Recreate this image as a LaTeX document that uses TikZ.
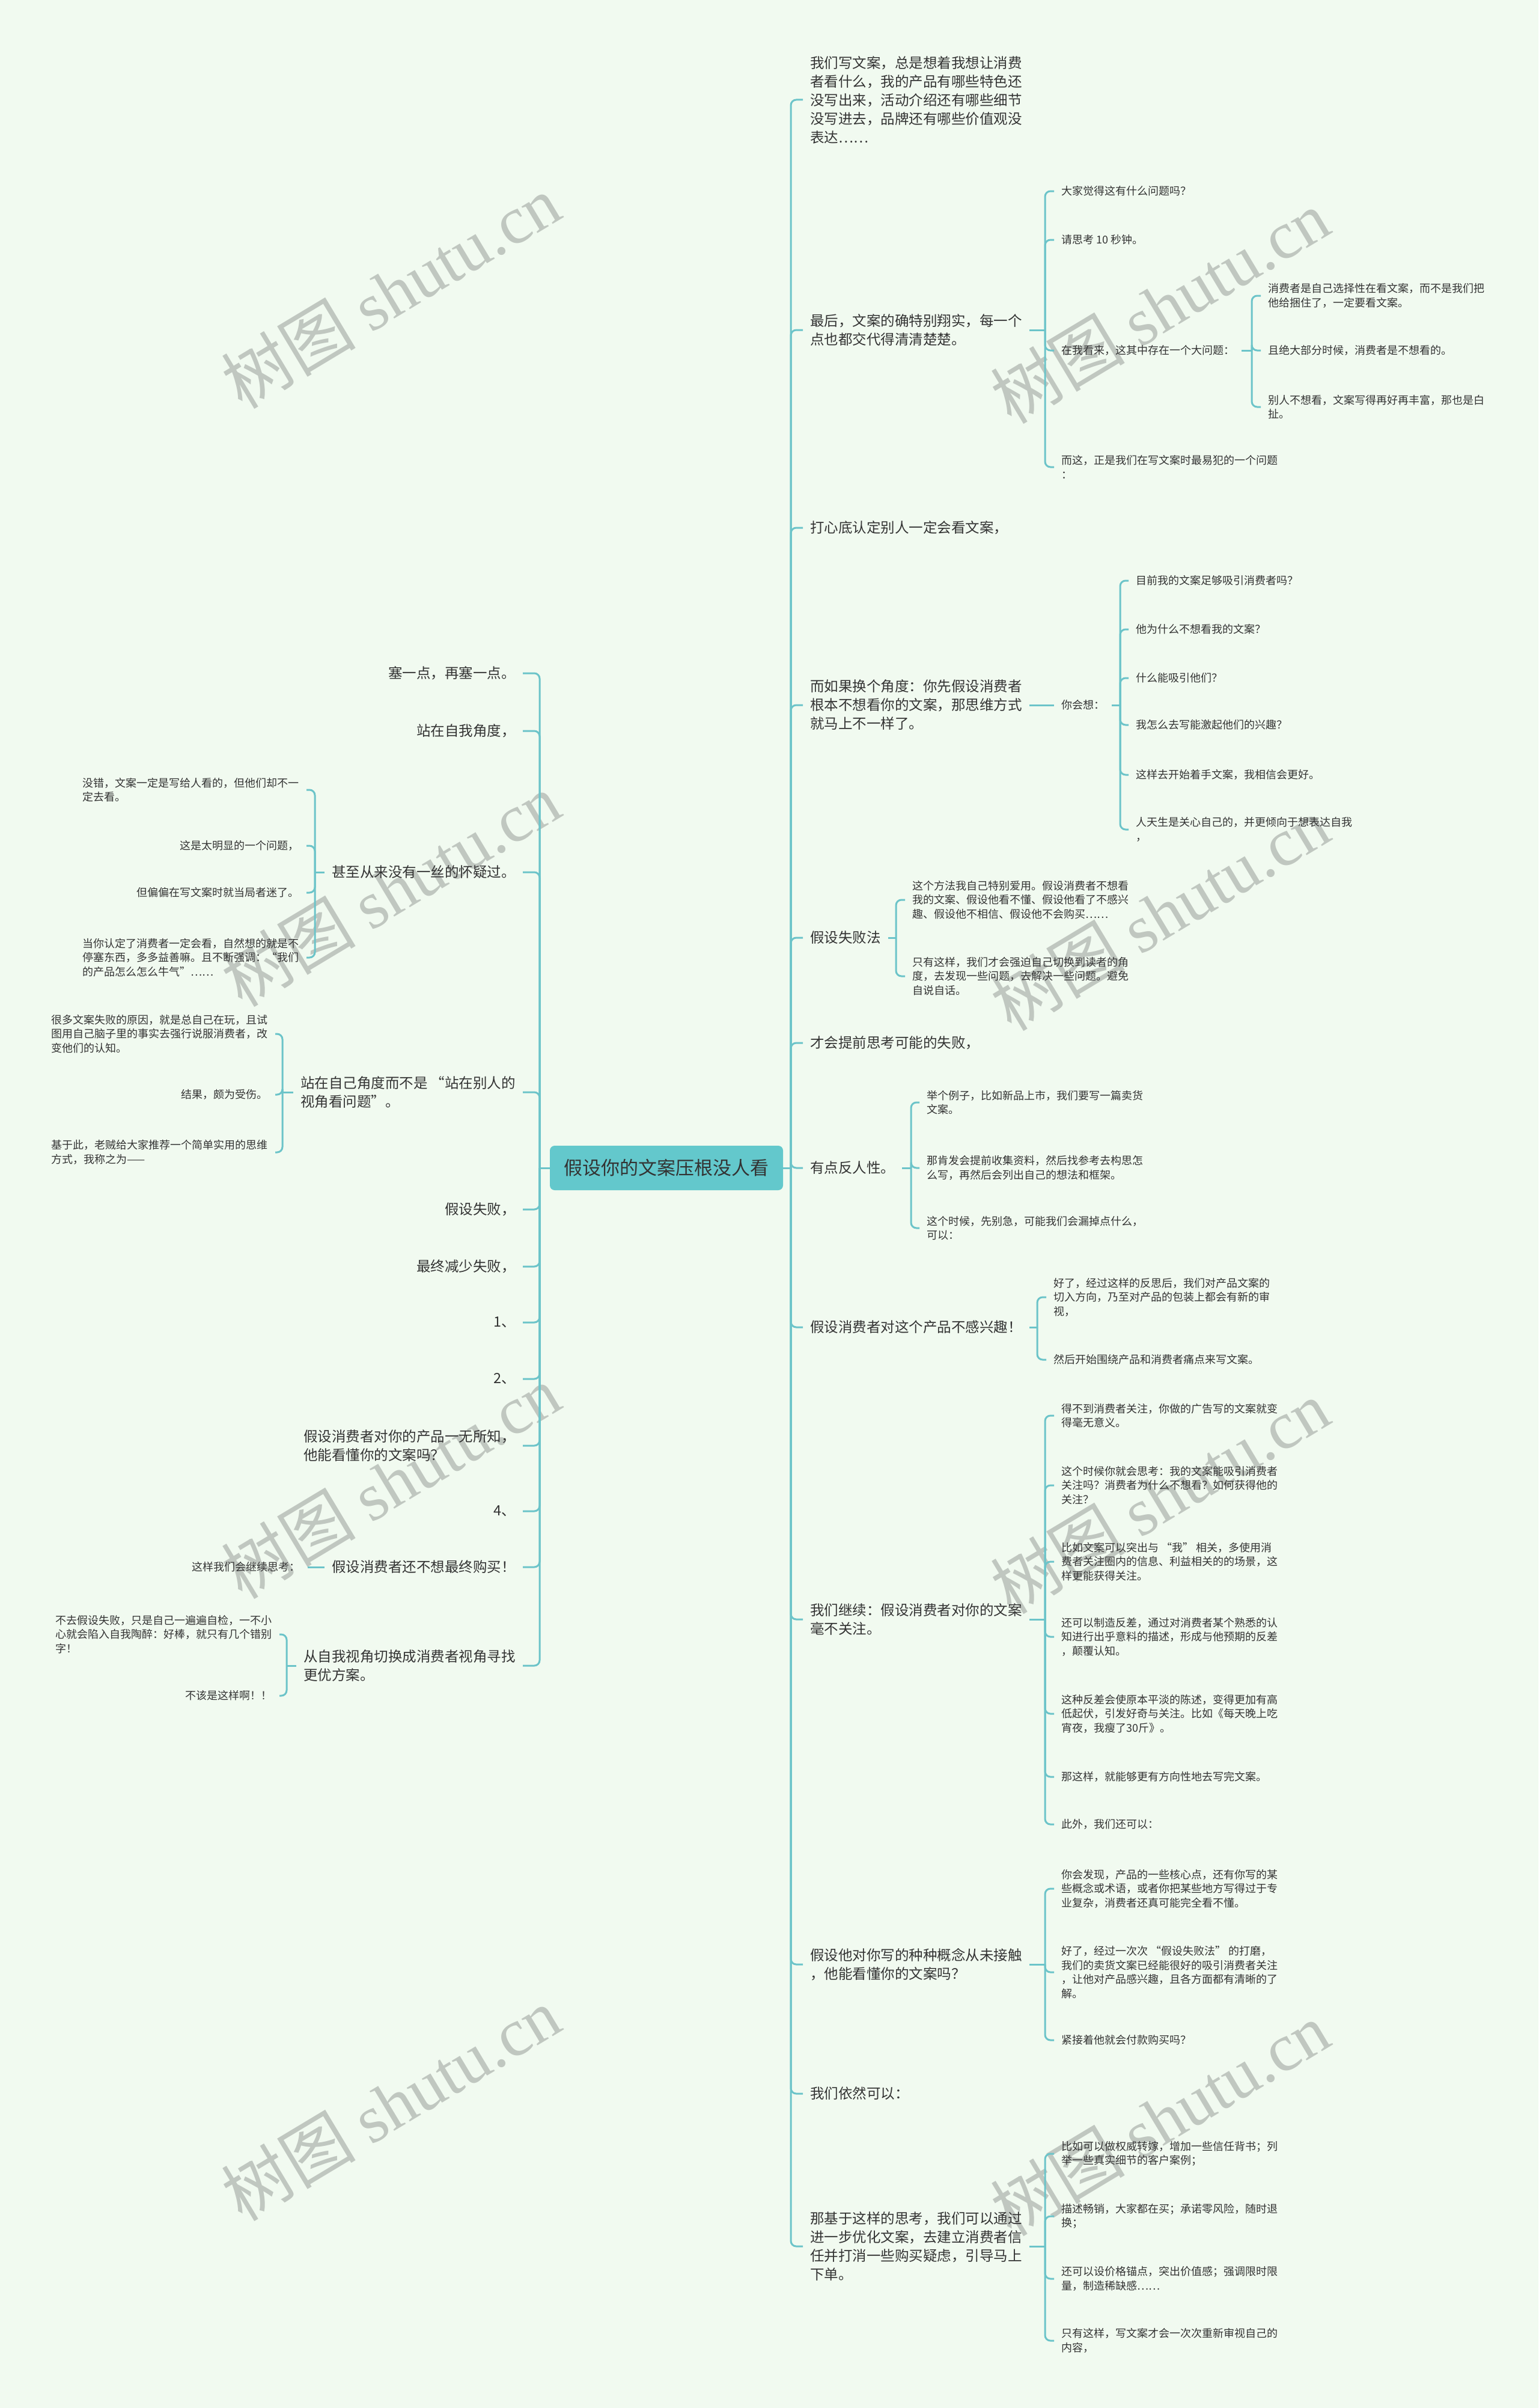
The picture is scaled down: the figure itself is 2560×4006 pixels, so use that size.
\documentclass[tikz,border=0pt]{standalone}
\usepackage{fontspec}
\setmainfont{Noto Sans CJK SC}
\newfontfamily\wmlatin{Liberation Serif}
\usepackage{tikz}
\definecolor{bgmint}{RGB}{241,250,240}
\definecolor{linkteal}{RGB}{108,196,201}
\definecolor{rootfill}{RGB}{99,200,204}
\definecolor{ink}{RGB}{51,51,51}
\definecolor{wmgray}{RGB}{192,199,192}
\tikzset{
	link/.style={draw=linkteal, line width=3pt, rounded corners=9pt},
	rootbox/.style={fill=rootfill, rounded corners=8pt, minimum width=388pt, minimum height=74pt, inner sep=0pt, text=ink, font=\fontsize{31}{36}\selectfont},
	topic/.style={text=ink, inner xsep=12pt, inner ysep=0pt, align=left, font=\fontsize{23.5}{31}\selectfont},
	leaf/.style={text=ink, inner xsep=12pt, inner ysep=0pt, align=left, font=\fontsize{18}{23.5}\selectfont},
	wmark/.style={text=wmgray, rotate=31, font=\fontsize{112}{112}\selectfont}
}

\begin{document}
\begin{tikzpicture}[x=1pt,y=-1pt]
	\useasboundingbox (0,0) rectangle (2560,4006);
	\fill[bgmint] (0,0) rectangle (2560,4006);
	% watermark
	\foreach \wx/\wy in {650/485,1930/510,650/1480,1930/1520,650/2465,1930/2490,650/3500,1930/3525}
		\node[wmark] at (\wx,\wy) {树图 {\wmlatin shutu.cn}};
	\node[rootbox] (root) at (1109,1943) {假设你的文案压根没人看};
	\coordinate (rjoin) at (1316,1943);
	\coordinate (ljoin) at (898,1943);
	% right side
	\node[topic, anchor=west] (r1) at (1336,166) {我们写文案，总是想着我想让消费\\者看什么，我的产品有哪些特色还\\没写出来，活动介绍还有哪些细节\\没写进去，品牌还有哪些价值观没\\表达……};%1
	\node[topic, anchor=west] (r2) at (1336,549) {最后，文案的确特别翔实，每一个\\点也都交代得清清楚楚。};%2
	\node[topic, anchor=west] (r3) at (1336,878) {打心底认定别人一定会看文案，};%3
	\node[topic, anchor=west] (r4) at (1336,1173) {而如果换个角度：你先假设消费者\\根本不想看你的文案，那思维方式\\就马上不一样了。};%4
	\node[topic, anchor=west] (r5) at (1336,1560) {假设失败法};%5
	\node[topic, anchor=west] (r6) at (1336,1735) {才会提前思考可能的失败，};%6
	\node[topic, anchor=west] (r7) at (1336,1943) {有点反人性。};%7
	\node[topic, anchor=west] (r8) at (1336,2208) {假设消费者对这个产品不感兴趣！};%8
	\node[topic, anchor=west] (r9) at (1336,2694) {我们继续：假设消费者对你的文案\\毫不关注。};%9
	\node[topic, anchor=west] (r10) at (1336,3268) {假设他对你写的种种概念从未接触\\，他能看懂你的文案吗？};%10
	\node[topic, anchor=west] (r11) at (1336,3483) {我们依然可以：};%11
	\node[topic, anchor=west] (r12) at (1336,3737) {那基于这样的思考，我们可以通过\\进一步优化文案，去建立消费者信\\任并打消一些购买疑虑，引导马上\\下单。};%12
	\draw[link] (root.east) -- (rjoin);
	\foreach \n in {r1,r2,r3,r4,r5,r6,r7,r8,r9,r10,r11,r12}
		\draw[link] (rjoin) |- (\n.west);
	% r2
	\coordinate (j2) at (1739,549);
	\node[leaf, anchor=west] (a1) at (1754,318) {大家觉得这有什么问题吗？};
	\node[leaf, anchor=west] (a2) at (1754,399) {请思考 10 秒钟。};
	\node[leaf, anchor=west] (a3) at (1754,583) {在我看来，这其中存在一个大问题：};
	\node[leaf, anchor=west] (a4) at (1754,777) {而这，正是我们在写文案时最易犯的一个问题\\：};
	\draw[link] (r2.east) -- (j2);
	\foreach \n in {a1,a2,a3,a4}
		\draw[link] (j2) |- (\n.west);
	\coordinate (ja3) at (2083,583);
	\node[leaf, anchor=west] (a31) at (2098,492) {消费者是自己选择性在看文案，而不是我们把\\他给捆住了，一定要看文案。};
	\node[leaf, anchor=west] (a32) at (2098,583) {且绝大部分时候，消费者是不想看的。};
	\node[leaf, anchor=west] (a33) at (2098,677) {别人不想看，文案写得再好再丰富，那也是白\\扯。};
	\draw[link] (a3.east) -- (ja3);
	\foreach \n in {a31,a32,a33}
		\draw[link] (ja3) |- (\n.west);
	% r4
	\node[leaf, anchor=west] (think) at (1754,1173) {你会想：};
	\coordinate (jthink) at (1864,1173);
	\node[leaf, anchor=west] (b1) at (1878,966) {目前我的文案足够吸引消费者吗？};
	\node[leaf, anchor=west] (b2) at (1878,1047) {他为什么不想看我的文案？};
	\node[leaf, anchor=west] (b3) at (1878,1128) {什么能吸引他们？};
	\node[leaf, anchor=west] (b4) at (1878,1206) {我怎么去写能激起他们的兴趣？};
	\node[leaf, anchor=west] (b5) at (1878,1289) {这样去开始着手文案，我相信会更好。};
	\node[leaf, anchor=west] (b6) at (1878,1380) {人天生是关心自己的，并更倾向于想表达自我\\，};
	\draw[link] (r4.east) -- (think.west);
	\draw[link] (think.east) -- (jthink);
	\foreach \n in {b1,b2,b3,b4,b5,b6}
		\draw[link] (jthink) |- (\n.west);
	% r5
	\coordinate (j5) at (1491,1560);
	\node[leaf, anchor=west] (c1) at (1506,1497) {这个方法我自己特别爱用。假设消费者不想看\\我的文案、假设他看不懂、假设他看了不感兴\\趣、假设他不相信、假设他不会购买……};
	\node[leaf, anchor=west] (c2) at (1506,1624) {只有这样，我们才会强迫自己切换到读者的角\\度，去发现一些问题，去解决一些问题。避免\\自说自话。};
	\draw[link] (r5.east) -- (j5);
	\foreach \n in {c1,c2}
		\draw[link] (j5) |- (\n.west);
	% r7
	\coordinate (j7) at (1516,1943);
	\node[leaf, anchor=west] (d1) at (1530,1834) {举个例子，比如新品上市，我们要写一篇卖货\\文案。};
	\node[leaf, anchor=west] (d2) at (1530,1943) {那肯发会提前收集资料，然后找参考去构思怎\\么写，再然后会列出自己的想法和框架。};
	\node[leaf, anchor=west] (d3) at (1530,2043) {这个时候，先别急，可能我们会漏掉点什么，\\可以：};
	\draw[link] (r7.east) -- (j7);
	\foreach \n in {d1,d2,d3}
		\draw[link] (j7) |- (\n.west);
	% r8
	\coordinate (j8) at (1726,2208);
	\node[leaf, anchor=west] (e1) at (1741,2158) {好了，经过这样的反思后，我们对产品文案的\\切入方向，乃至对产品的包装上都会有新的审\\视，};
	\node[leaf, anchor=west] (e2) at (1741,2262) {然后开始围绕产品和消费者痛点来写文案。};
	\draw[link] (r8.east) -- (j8);
	\foreach \n in {e1,e2}
		\draw[link] (j8) |- (\n.west);
	% r9
	\coordinate (j9) at (1739,2694);
	\node[leaf, anchor=west] (f1) at (1754,2355) {得不到消费者关注，你做的广告写的文案就变\\得毫无意义。};
	\node[leaf, anchor=west] (f2) at (1754,2471) {这个时候你就会思考：我的文案能吸引消费者\\关注吗？消费者为什么不想看？如何获得他的\\关注？};
	\node[leaf, anchor=west] (f3) at (1754,2598) {比如文案可以突出与 “我” 相关，多使用消\\费者关注圈内的信息、利益相关的的场景，这\\样更能获得关注。};
	\node[leaf, anchor=west] (f4) at (1754,2723) {还可以制造反差，通过对消费者某个熟悉的认\\知进行出乎意料的描述，形成与他预期的反差\\，颠覆认知。};
	\node[leaf, anchor=west] (f5) at (1754,2851) {这种反差会使原本平淡的陈述，变得更加有高\\低起伏，引发好奇与关注。比如《每天晚上吃\\宵夜，我瘦了30斤》。};
	\node[leaf, anchor=west] (f6) at (1754,2956) {那这样，就能够更有方向性地去写完文案。};
	\node[leaf, anchor=west] (f7) at (1754,3035) {此外，我们还可以：};
	\draw[link] (r9.east) -- (j9);
	\foreach \n in {f1,f2,f3,f4,f5,f6,f7}
		\draw[link] (j9) |- (\n.west);
	% r10
	\coordinate (j10) at (1739,3268);
	\node[leaf, anchor=west] (g1) at (1754,3142) {你会发现，产品的一些核心点，还有你写的某\\些概念或术语，或者你把某些地方写得过于专\\业复杂，消费者还真可能完全看不懂。};
	\node[leaf, anchor=west] (g2) at (1754,3281) {好了，经过一次次 “假设失败法” 的打磨，\\我们的卖货文案已经能很好的吸引消费者关注\\，让他对产品感兴趣，且各方面都有清晰的了\\解。};
	\node[leaf, anchor=west] (g3) at (1754,3394) {紧接着他就会付款购买吗？};
	\draw[link] (r10.east) -- (j10);
	\foreach \n in {g1,g2,g3}
		\draw[link] (j10) |- (\n.west);
	% r12
	\coordinate (j12) at (1739,3737);
	\node[leaf, anchor=west] (h1) at (1754,3583) {比如可以做权威转嫁，增加一些信任背书；列\\举一些真实细节的客户案例；};
	\node[leaf, anchor=west] (h2) at (1754,3687) {描述畅销，大家都在买；承诺零风险，随时退\\换；};
	\node[leaf, anchor=west] (h3) at (1754,3791) {还可以设价格锚点，突出价值感；强调限时限\\量，制造稀缺感……};
	\node[leaf, anchor=west] (h4) at (1754,3894) {只有这样，写文案才会一次次重新审视自己的\\内容，};
	\draw[link] (r12.east) -- (j12);
	\foreach \n in {h1,h2,h3,h4}
		\draw[link] (j12) |- (\n.west);
	% left side
	\node[topic, anchor=east] (l1) at (870,1120) {塞一点，再塞一点。};%1
	\node[topic, anchor=east] (l2) at (870,1216) {站在自我角度，};%2
	\node[topic, anchor=east] (l3) at (870,1451) {甚至从来没有一丝的怀疑过。};%3
	\node[topic, anchor=east] (l4) at (870,1817) {站在自己角度而不是 “站在别人的\\视角看问题”。};%4
	\node[topic, anchor=east] (l5) at (870,2012) {假设失败，};%5
	\node[topic, anchor=east] (l6) at (870,2107) {最终减少失败，};%6
	\node[topic, anchor=east] (l7) at (870,2200) {1、};%7
	\node[topic, anchor=east] (l8) at (870,2294) {2、};%8
	\node[topic, anchor=east] (l9) at (870,2405) {假设消费者对你的产品一无所知，\\他能看懂你的文案吗？};%9
	\node[topic, anchor=east] (l10) at (870,2514) {4、};%10
	\node[topic, anchor=east] (l11) at (870,2607) {假设消费者还不想最终购买！};%11
	\node[topic, anchor=east] (l12) at (870,2771) {从自我视角切换成消费者视角寻找\\更优方案。};%12
	\draw[link] (root.west) -- (ljoin);
	\foreach \n in {l1,l2,l3,l4,l5,l6,l7,l8,l9,l10,l11,l12}
		\draw[link] (ljoin) |- (\n.east);
	% l3
	\coordinate (jl3) at (524,1451);
	\node[leaf, anchor=east] (m1) at (510,1314) {没错，文案一定是写给人看的，但他们却不一\\定去看。};
	\node[leaf, anchor=east] (m2) at (510,1407) {这是太明显的一个问题，};
	\node[leaf, anchor=east] (m3) at (510,1485) {但偏偏在写文案时就当局者迷了。};
	\node[leaf, anchor=east] (m4) at (510,1593) {当你认定了消费者一定会看，自然想的就是不\\停塞东西，多多益善嘛。且不断强调：“我们\\的产品怎么怎么牛气”……};
	\draw[link] (l3.west) -- (jl3);
	\foreach \n in {m1,m2,m3,m4}
		\draw[link] (jl3) |- (\n.east);
	% l4
	\coordinate (jl4) at (470,1817);
	\node[leaf, anchor=east] (n1) at (458,1720) {很多文案失败的原因，就是总自己在玩，且试\\图用自己脑子里的事实去强行说服消费者，改\\变他们的认知。};
	\node[leaf, anchor=east] (n2) at (458,1821) {结果，颇为受伤。};
	\node[leaf, anchor=east] (n3) at (458,1917) {基于此，老贼给大家推荐一个简单实用的思维\\方式，我称之为——};
	\draw[link] (l4.west) -- (jl4);
	\foreach \n in {n1,n2,n3}
		\draw[link] (jl4) |- (\n.east);
	% l11
	\node[leaf, anchor=east] (k1) at (512,2607) {这样我们会继续思考：};
	\draw[link] (l11.west) -- (k1.east);
	% l12
	\coordinate (jl12) at (477,2771);
	\node[leaf, anchor=east] (p1) at (465,2719) {不去假设失败，只是自己一遍遍自检，一不小\\心就会陷入自我陶醉：好棒，就只有几个错别\\字！};
	\node[leaf, anchor=east] (p2) at (465,2821) {不该是这样啊！！};
	\draw[link] (l12.west) -- (jl12);
	\foreach \n in {p1,p2}
		\draw[link] (jl12) |- (\n.east);
\end{tikzpicture}
\end{document}
